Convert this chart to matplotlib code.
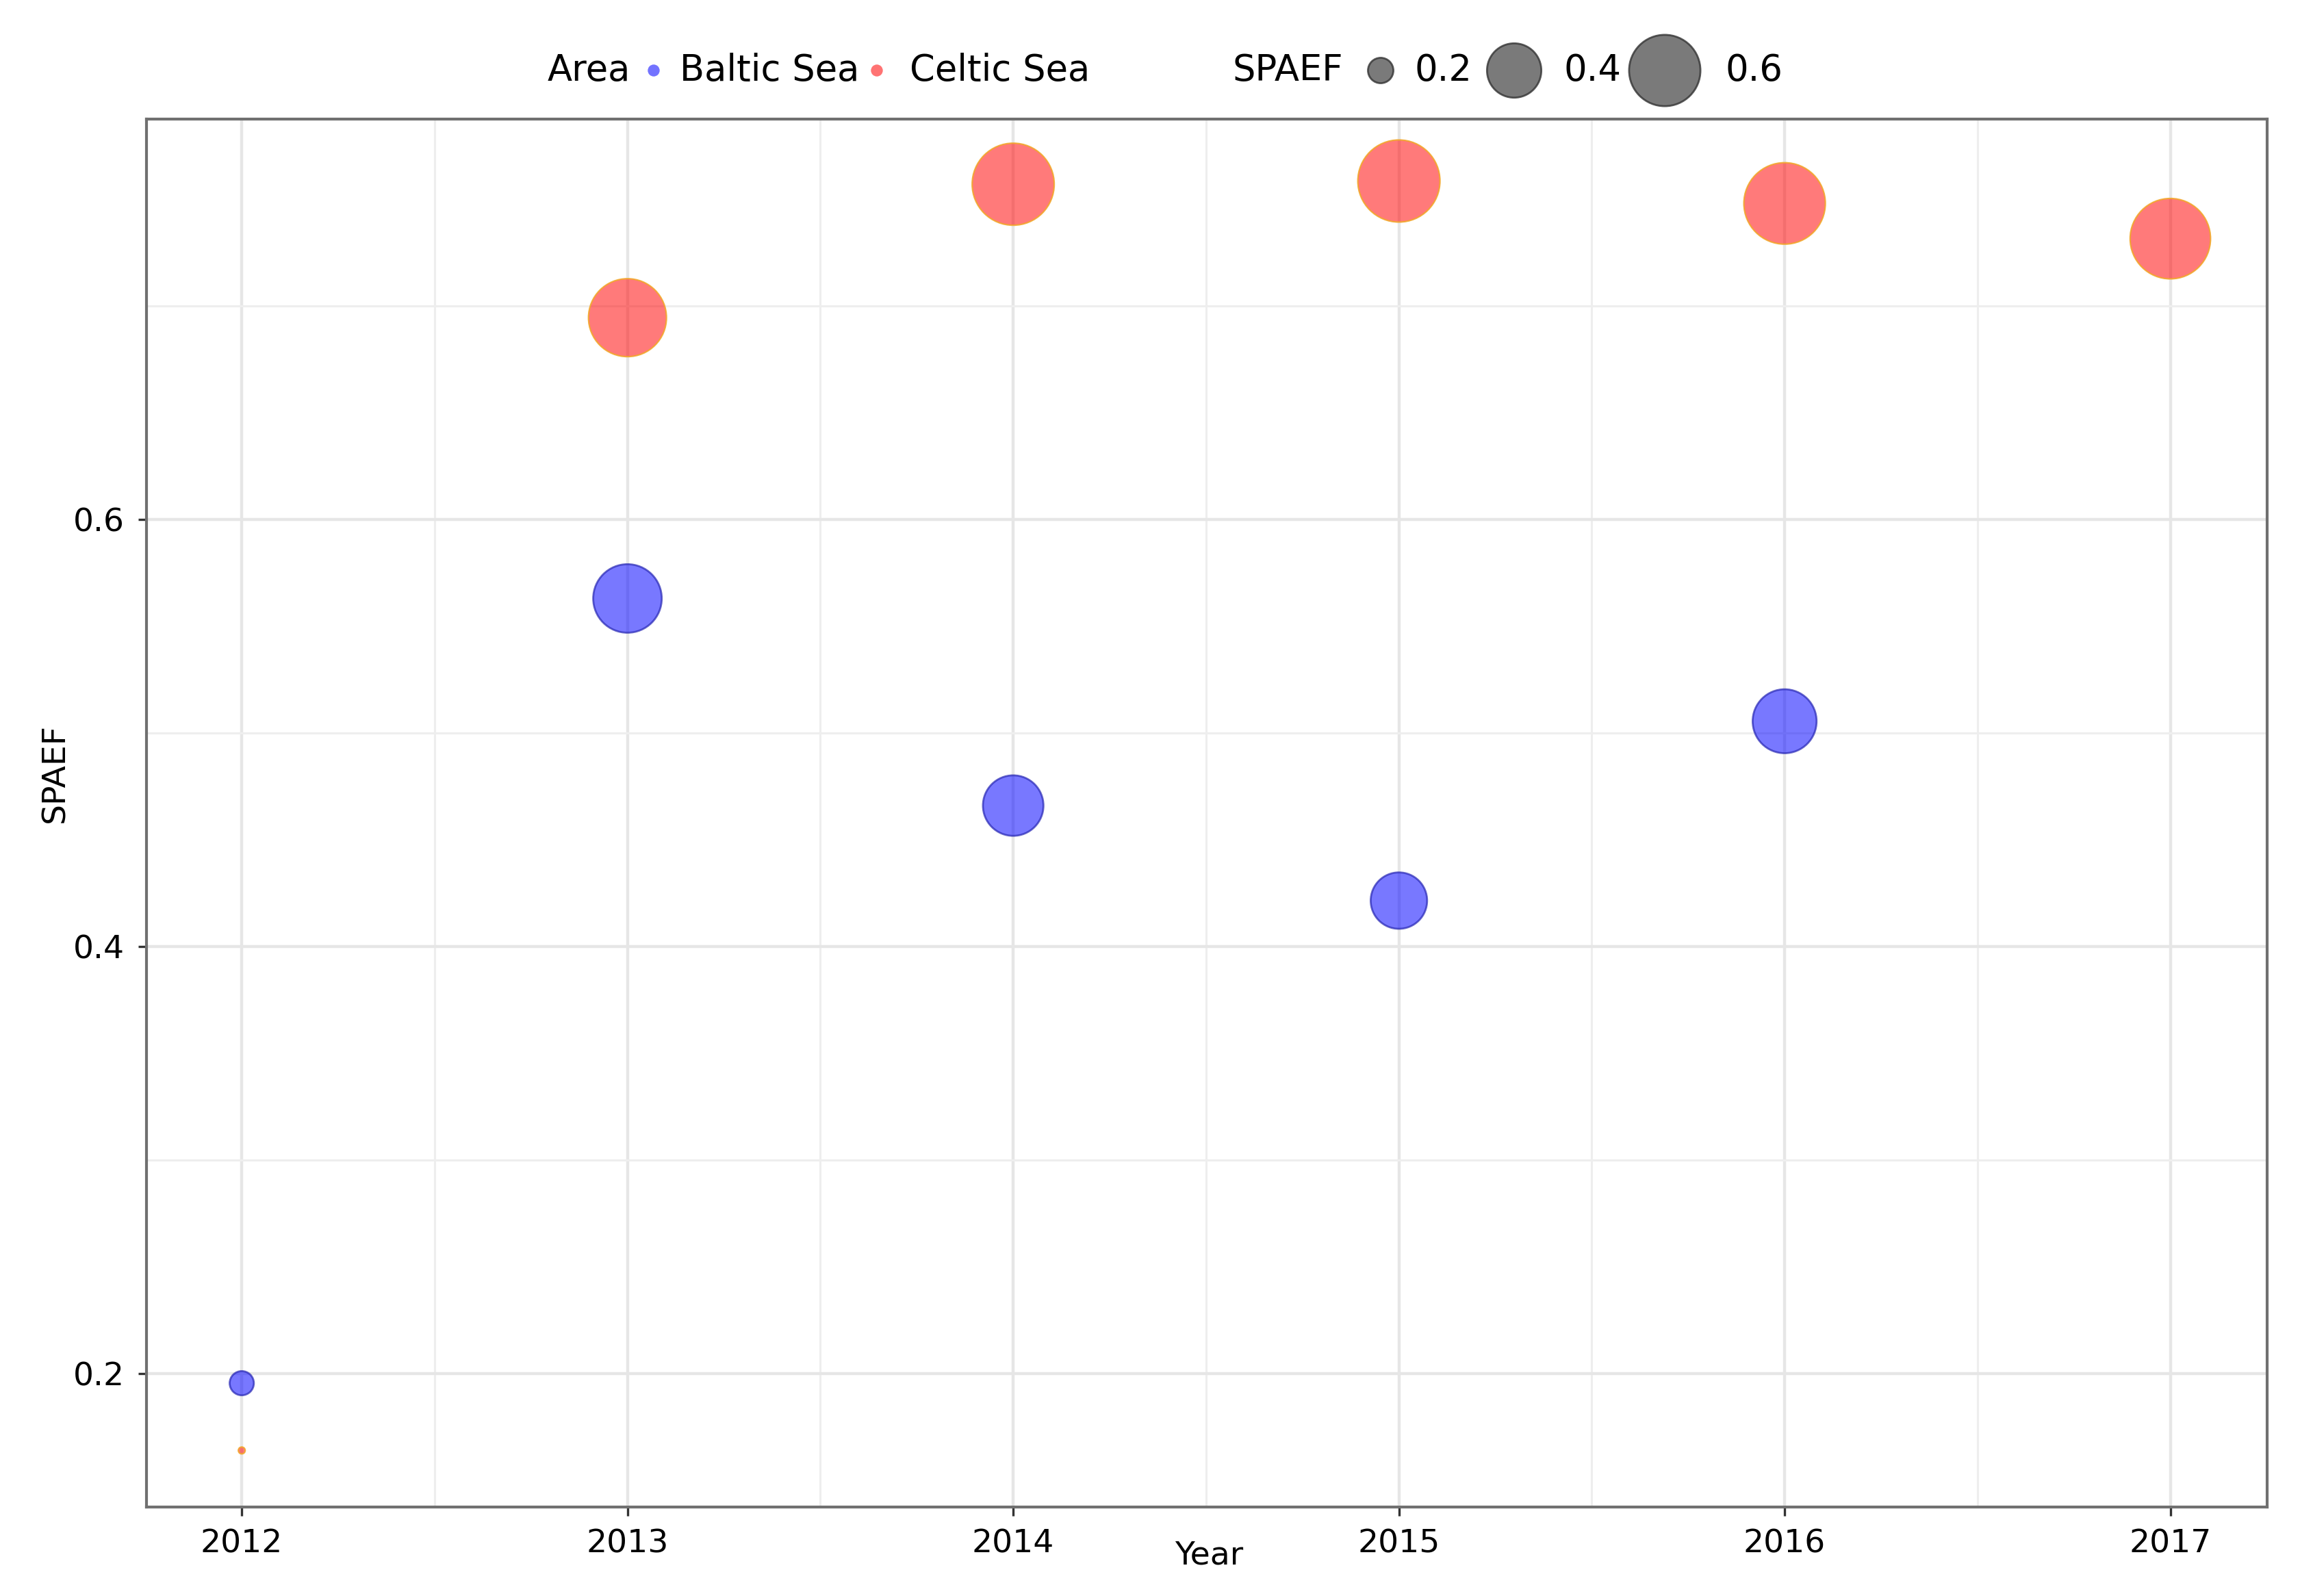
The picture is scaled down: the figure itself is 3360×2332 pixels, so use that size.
import numpy as np
import matplotlib.pyplot as plt
from matplotlib.ticker import MultipleLocator

# values
baltic_years = [2012, 2013, 2014, 2015, 2016]
baltic_spaef = [0.1955, 0.563, 0.466, 0.4215, 0.5055]
celtic_years = [2012, 2013, 2014, 2015, 2016, 2017]
celtic_spaef = [0.164, 0.6945, 0.757, 0.7585, 0.748, 0.7315]
year_ticks = [2012, 2013, 2014, 2015, 2016, 2017]
spaef_ticks = [0.2, 0.4, 0.6]
size_breaks = [0.2, 0.4, 0.6]

DPI = 200
W, H = 3360, 2332

all_vals = np.array(baltic_spaef + celtic_spaef)
vmin, vmax = all_vals.min(), all_vals.max()


def marker_area(v):
    # ggplot-style area scale: diameter from ~10 px to ~120 px
    v = np.asarray(v, dtype=float)
    d_px = 10 + 110 * np.sqrt(np.clip((v - vmin) / (vmax - vmin), 0, None))
    d_pt = d_px * 72.0 / DPI
    return d_pt ** 2


plt.rcParams['font.family'] = ['DejaVu Sans']
fig = plt.figure(figsize=(W / DPI, H / DPI), dpi=DPI)
ax = fig.add_axes([214 / W, 1 - 2202 / H, (3312 - 214) / W, (2202 - 174) / H])

ax.scatter(baltic_years, baltic_spaef, s=marker_area(baltic_spaef),
           facecolor=(0, 0, 1, 0.53), edgecolor=(0.15, 0.15, 0.7, 0.7),
           linewidth=1.0, zorder=3)
ax.scatter(celtic_years, celtic_spaef, s=marker_area(celtic_spaef),
           facecolor=(1, 0, 0, 0.52), edgecolor=(0.95, 0.65, 0.15, 0.85),
           linewidth=0.8, zorder=3)

ax.set_xlim(2011.753, 2017.251)
ax.set_ylim(0.1375, 0.7875)
ax.set_xticks(year_ticks)
ax.set_xticklabels([str(y) for y in year_ticks])
ax.set_yticks(spaef_ticks)
ax.set_yticklabels([f'{t:.1f}' for t in spaef_ticks])
ax.xaxis.set_minor_locator(MultipleLocator(0.5))
ax.yaxis.set_minor_locator(MultipleLocator(0.1))

ax.grid(which='major', color='#e6e6e6', lw=1.6, zorder=0)
ax.grid(which='minor', color='#eeeeee', lw=1.1, zorder=0)
ax.set_axisbelow(True)
ax.tick_params(which='minor', length=0)
ax.tick_params(which='major', length=4.5, width=1.2, color='#333333',
               labelsize=17, pad=7)

for sp in ax.spines.values():
    sp.set_color('#707070')
    sp.set_linewidth(1.5)

ax.set_xlabel('Year', fontsize=17)
ax.set_ylabel('SPAEF', fontsize=17)
ax.xaxis.set_label_coords(0.501, -0.024)
ax.yaxis.set_label_coords(-0.0356, 0.529)

# legend row at the top
lax = fig.add_axes([0, 0, 1, 1])
lax.set_axis_off()
lax.set_xlim(0, 1)
lax.set_ylim(0, 1)
ly = 1 - 103 / H

fig.text(800 / W, ly, 'Area', fontsize=19, va='center', ha='left')
lax.scatter([955 / W], [ly], s=marker_area([0.2])[0] * 0.22,
            facecolor=(0, 0, 1, 0.55), edgecolor='none')
fig.text(993 / W, ly, 'Baltic Sea', fontsize=19, va='center', ha='left')
lax.scatter([1281 / W], [ly], s=marker_area([0.2])[0] * 0.22,
            facecolor=(1, 0, 0, 0.55), edgecolor='none')
fig.text(1329 / W, ly, 'Celtic Sea', fontsize=19, va='center', ha='left')

fig.text(1800 / W, ly, 'SPAEF', fontsize=19, va='center', ha='left')
key_x = [2017 / W, 2212 / W, 2432 / W]
lab_x = [2066 / W, 2285 / W, 2520 / W]
lax.scatter(key_x, [ly] * len(size_breaks), s=marker_area(size_breaks),
            facecolor=(0.3, 0.3, 0.3, 0.75), edgecolor=(0.2, 0.2, 0.2, 0.8),
            linewidth=1.0)
for x, b in zip(lab_x, size_breaks):
    fig.text(x, ly, f'{b:.1f}', fontsize=19, va='center', ha='left')

fig.savefig('out.png', dpi=DPI, facecolor='white')
